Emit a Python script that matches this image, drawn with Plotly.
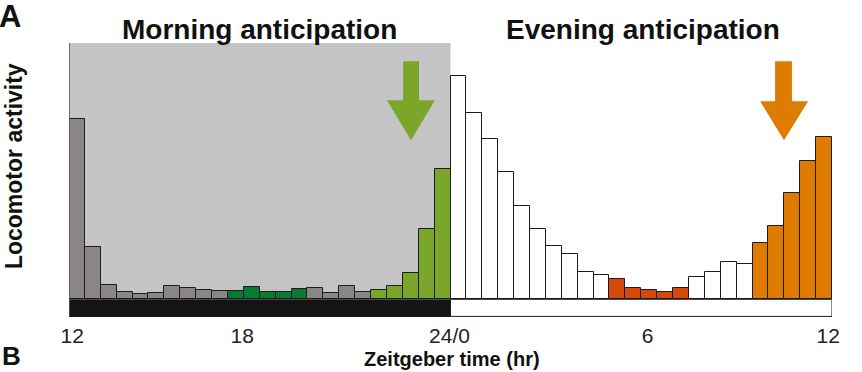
import plotly.graph_objects as go

# ---- data (arbitrary activity units, 30-min bins from ZT12 to ZT12 next day) ----
night_activity = [180, 52, 14, 7, 5, 6, 13, 11, 9, 8, 8.3, 12.8, 7.3, 7.3, 10.6,
                  11.6, 6.8, 12.9, 7.8, 9.7, 13.3, 26, 70.2, 130.3]
day_activity = [223, 186, 160, 127.7, 93.2, 70.7, 53.1, 45, 27.6, 24.3, 20, 11.7,
                9.7, 7, 11.8, 22.8, 27.7, 37.7, 35.3, 56.8, 73.7, 106.8, 138.7, 162.8]
night_groups = ["n"] * 10 + ["m"] * 5 + ["n"] * 4 + ["ma"] * 5
day_groups = ["d"] * 10 + ["e"] * 5 + ["d"] * 4 + ["ea"] * 5
tick_labels = ["12", "18", "24/0", "6", "12"]
tick_positions = [12.1, 17.45, 23.97, 30.2, 35.88]

group_colors = {"n": "#8a8686", "m": "#0a7a33", "ma": "#7aa62a",
                "d": "#ffffff", "e": "#d54a08", "ea": "#df7b00"}

activity = night_activity + day_activity
groups = night_groups + day_groups
zt = [12.25 + 0.5 * i for i in range(len(activity))]
colors = [group_colors[g] for g in groups]

FONT = "Liberation Sans, Arial, sans-serif"
YMIN, YMAX = -17.7, 256.3

fig = go.Figure()
fig.add_trace(go.Bar(
    x=zt, y=activity, width=0.5,
    marker=dict(color=colors, line=dict(color="#1c1c1c", width=1)),
    hoverinfo="x+y", showlegend=False,
))

shapes = [
    # night shading
    dict(type="rect", xref="x", yref="y", x0=12, x1=24, y0=0, y1=YMAX,
         fillcolor="#c4c4c4", line=dict(width=0), layer="below"),
    # night bar (dark)
    dict(type="rect", xref="x", yref="y", x0=12, x1=24, y0=YMIN, y1=0,
         fillcolor="#141414", line=dict(width=0), layer="above"),
    # day bar (light)
    dict(type="rect", xref="x", yref="y", x0=24, x1=36, y0=YMIN + 0.6, y1=0,
         fillcolor="#ffffff", line=dict(color="#1c1c1c", width=1), layer="above"),
    # left axis line
    dict(type="line", xref="x", yref="y", x0=12, x1=12, y0=YMIN, y1=YMAX,
         line=dict(color="#555555", width=1.5), layer="above"),
    # green arrow
    dict(type="path", xref="x", yref="y",
         path="M 22.51,238 L 23.01,238 L 23.01,199 L 23.51,199 L 22.76,159 "
              "L 22.0,199 L 22.51,199 Z",
         fillcolor="#7aa62a", line=dict(width=0), layer="above"),
    # orange arrow
    dict(type="path", xref="x", yref="y",
         path="M 34.21,238 L 34.74,238 L 34.74,198 L 35.25,198 L 34.49,159 "
              "L 33.74,198 L 34.21,198 Z",
         fillcolor="#df7b00", line=dict(width=0), layer="above"),
]

annotations = [
    dict(text="<b>Morning anticipation</b>", xref="x", yref="paper", x=18, y=1.05,
         showarrow=False, font=dict(family=FONT, size=28, color="#111111"),
         xanchor="center", yanchor="middle"),
    dict(text="<b>Evening anticipation</b>", xref="x", yref="paper", x=30.05, y=1.05,
         showarrow=False, font=dict(family=FONT, size=28, color="#111111"),
         xanchor="center", yanchor="middle"),
    dict(text="<b>Zeitgeber time (hr)</b>", xref="x", yref="paper", x=24.05, y=-0.153,
         showarrow=False, font=dict(family=FONT, size=20, color="#111111"),
         xanchor="center", yanchor="middle"),
    dict(text="<b>Locomotor activity</b>", xref="paper", yref="paper", x=-0.072, y=0.551,
         textangle=-90, showarrow=False, font=dict(family=FONT, size=23, color="#111111"),
         xanchor="center", yanchor="middle"),
    dict(text="<b>A</b>", xref="paper", yref="paper", x=-0.077, y=1.095,
         showarrow=False, font=dict(family=FONT, size=31, color="#111111"),
         xanchor="center", yanchor="middle"),
    dict(text="<b>B</b>", xref="paper", yref="paper", x=-0.075, y=-0.143,
         showarrow=False, font=dict(family=FONT, size=26, color="#111111"),
         xanchor="center", yanchor="middle"),
]

fig.update_layout(
    width=862, height=372,
    margin=dict(l=69, r=30, t=43, b=55),
    paper_bgcolor="white", plot_bgcolor="white",
    bargap=0,
    shapes=shapes, annotations=annotations,
    font=dict(family=FONT, color="#222222"),
    xaxis=dict(range=[12, 36], tickvals=tick_positions, ticktext=tick_labels,
               ticks="", showgrid=False, zeroline=False, showline=False,
               ticklabelstandoff=4,
               tickfont=dict(family=FONT, size=21, color="#222222")),
    yaxis=dict(range=[YMIN, YMAX], visible=False, showgrid=False, zeroline=False),
)

fig.write_html("out.html")
